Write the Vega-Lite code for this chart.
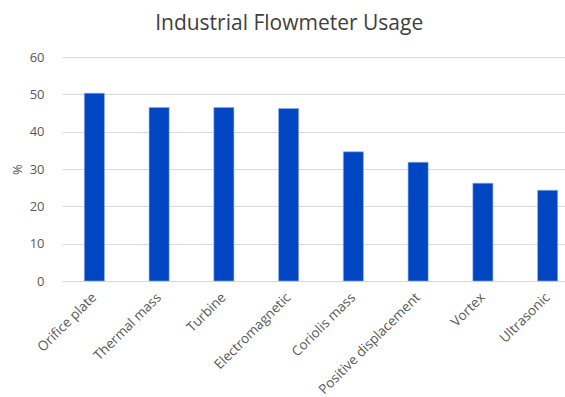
{
  "$schema": "https://vega.github.io/schema/vega-lite/v6.json",
  "width": 503,
  "height": 224,
  "autosize": {"type": "none"},
  "padding": {"left": 62, "top": 57, "right": 0, "bottom": 116},
  "background": "white",
  "title": {
    "text": "Industrial  Flowmeter Usage",
    "font": "Open Sans",
    "fontSize": 21,
    "fontWeight": "normal",
    "color": "#404040",
    "anchor": "start",
    "dx": 144,
    "baseline": "alphabetic",
    "offset": 0
  },
  "data": {
    "values": [
      {"type": "Orifice plate", "pct": 50.3},
      {"type": "Thermal mass", "pct": 46.5},
      {"type": "Turbine", "pct": 46.5},
      {"type": "Electromagnetic", "pct": 46.2},
      {"type": "Coriolis mass", "pct": 34.6},
      {"type": "Positive displacement", "pct": 31.8},
      {"type": "Vortex", "pct": 26.2},
      {"type": "Ultrasonic", "pct": 24.3}
    ]
  },
  "mark": {"type": "bar", "color": "#0045c2", "stroke": "#8fb0ea", "strokeWidth": 0.6},
  "encoding": {
    "x": {
      "field": "type",
      "type": "nominal",
      "sort": null,
      "scale": {"paddingInner": 0.69, "paddingOuter": 0.345, "range": [0, 518]},
      "axis": {
        "title": null,
        "labelAngle": -45,
        "labelAlign": "right",
        "labelBaseline": "middle",
        "labelFont": "Open Sans",
        "labelFontSize": 13.5,
        "labelColor": "#595959",
        "ticks": false,
        "domainColor": "#d9d9d9",
        "labelPadding": 14
      }
    },
    "y": {
      "field": "pct",
      "type": "quantitative",
      "scale": {"domain": [0, 60], "nice": false},
      "axis": {
        "title": "%",
        "titleFont": "Open Sans",
        "titleFontSize": 13,
        "titleFontWeight": "normal",
        "titleColor": "#595959",
        "titlePadding": 5,
        "values": [0, 10, 20, 30, 40, 50, 60],
        "labelFont": "Open Sans",
        "labelFontSize": 13,
        "labelColor": "#595959",
        "labelPadding": 18,
        "ticks": false,
        "domain": false,
        "gridColor": "#d9d9d9",
        "gridWidth": 1
      }
    }
  },
  "config": {"view": {"stroke": null}}
}
